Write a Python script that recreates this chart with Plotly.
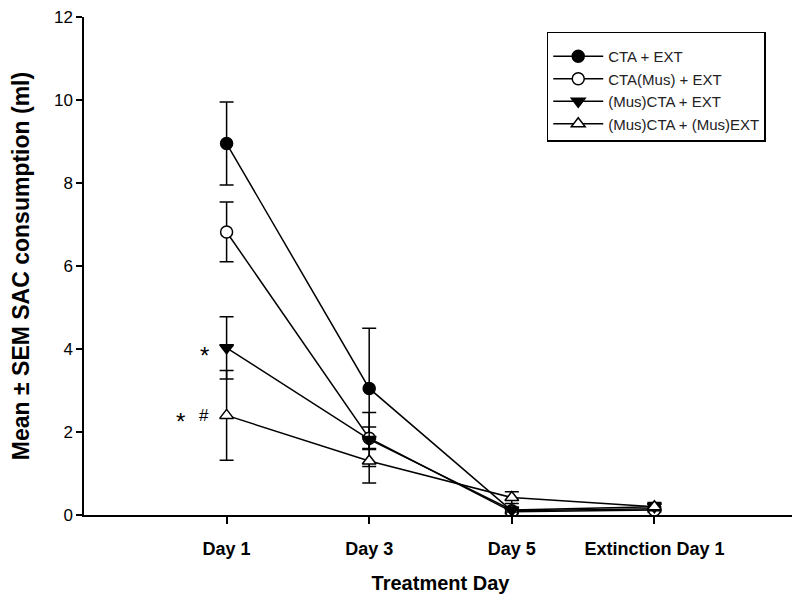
import plotly.graph_objects as go

days = ["Day 1", "Day 3", "Day 5", "Extinction Day 1"]
xpos = [1, 2, 3, 4]

names = ["CTA + EXT", "CTA(Mus) + EXT", "(Mus)CTA + EXT", "(Mus)CTA + (Mus)EXT"]
cta_ext = [8.95, 3.05, 0.10, 0.15]
cta_ext_err = [1.0, 1.45, 0.05, 0.05]
ctamus_ext = [6.82, 1.85, 0.08, 0.12]
ctamus_ext_err = [0.72, 0.27, 0.05, 0.05]
musCta_ext = [4.03, 1.82, 0.12, 0.20]
musCta_ext_err = [0.75, 0.65, 0.05, 0.08]
musCta_musExt = [2.40, 1.30, 0.42, 0.20]
musCta_musExt_err = [1.08, 0.53, 0.14, 0.10]

series = [cta_ext, ctamus_ext, musCta_ext, musCta_musExt]
errs = [cta_ext_err, ctamus_ext_err, musCta_ext_err, musCta_musExt_err]
symbols = ["circle", "circle", "triangle-down", "triangle-up"]
fills = ["black", "white", "black", "white"]

fig = go.Figure()
for nm, ys, es, sym, fc in zip(names, series, errs, symbols, fills):
    fig.add_trace(go.Scatter(
        x=xpos, y=ys, name=nm, mode="lines+markers",
        line=dict(color="black", width=1.5),
        marker=dict(symbol=sym, size=12, color=fc,
                    line=dict(color="black", width=1.5)),
        error_y=dict(type="data", array=es, visible=True, color="black",
                     thickness=1.5, width=7),
    ))

fig.add_annotation(x=1, y=4.03, xref="x", yref="y", text="*", showarrow=False,
                   xshift=-22, yshift=-8, font=dict(size=24, color="black", family="Liberation Sans"))
fig.add_annotation(x=1, y=2.40, xref="x", yref="y", text="*", showarrow=False,
                   xshift=-46, yshift=-6, font=dict(size=24, color="black", family="Liberation Sans"))
fig.add_annotation(x=1, y=2.40, xref="x", yref="y", text="#", showarrow=False,
                   xshift=-23, yshift=0, font=dict(size=17, color="black", family="Liberation Sans"))

fig.update_layout(
    width=800, height=605,
    margin=dict(l=76, r=11, t=9, b=98),
    plot_bgcolor="white", paper_bgcolor="white",
    font=dict(family="Liberation Sans", color="black"),
    showlegend=True,
    legend=dict(x=0.649, y=0.97, xanchor="left", yanchor="top",
                bordercolor="black", borderwidth=1.5, bgcolor="white",
                font=dict(size=15, color="#222222"), tracegroupgap=0,
                itemwidth=50,
                title=dict(text=" ", font=dict(size=5))),
    xaxis=dict(range=[0, 5], tickvals=xpos, ticktext=["<b>%s</b>" % d for d in days],
               showline=True, linecolor="black", linewidth=1.5,
               ticks="outside", ticklen=7, tickwidth=1.5, tickcolor="black",
               showgrid=False, zeroline=False, automargin=False,
               tickfont=dict(size=18), ticklabelstandoff=10,
               title=dict(text="<b>Treatment Day</b>", font=dict(size=20), standoff=18)),
    yaxis=dict(range=[0, 12], dtick=2, showline=True, linecolor="black", linewidth=1.5,
               ticks="outside", ticklen=6, tickwidth=1.5, tickcolor="black",
               showgrid=False, zeroline=False, tickfont=dict(size=17), automargin=False,
               ticklabeloverflow="allow",
               title=dict(text="<b>Mean ± SEM SAC consumption (ml)</b>", font=dict(size=23), standoff=20)),
)

fig.write_html("out.html")
